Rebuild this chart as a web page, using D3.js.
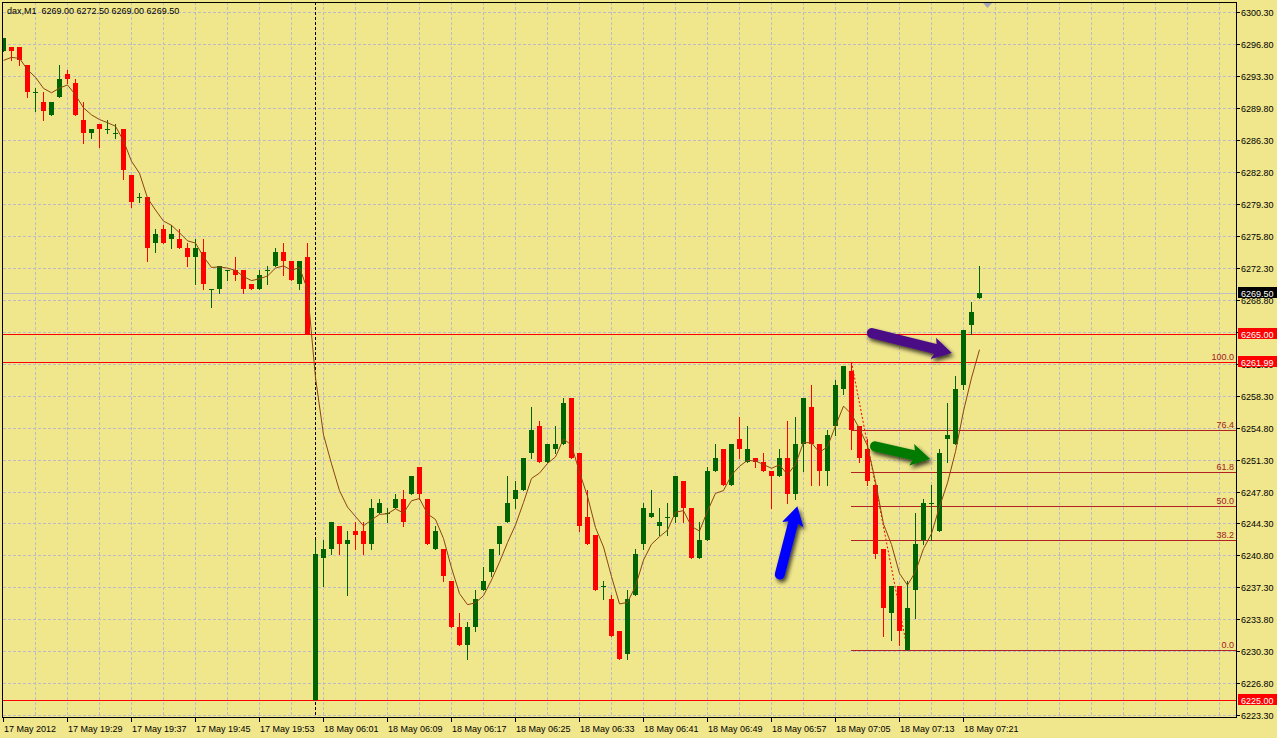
<!DOCTYPE html>
<html><head><meta charset="utf-8">
<script src="https://cdn.jsdelivr.net/npm/d3@7"></script>
<style>html,body{margin:0;padding:0;background:#F0E68C;overflow:hidden}svg{display:block}</style>
</head><body><svg id="c" width="1277" height="738"></svg>
<script>
// ---------- data ----------
const symbolLabel = "dax,M1";
const lastOHLC = ["6269.00", "6272.50", "6269.00", "6269.50"];

const opens = [6296.0,6296.5,6296.5,6294.5,6291.5,6290.5,6289.0,6291.0,6293.5,6292.5,
6288.5,6287.0,6288.0,6287.5,6287.0,6287.5,6282.5,6280.0,6280.0,6275.0,
6276.5,6275.5,6275.5,6274.5,6273.5,6274.0,6270.0,6270.0,6272.0,6272.0,
6272.0,6270.5,6270.0,6272.0,6272.5,6274.0,6273.0,6270.5,6273.5,6225.0,
6240.5,6241.5,6244.0,6242.0,6243.5,6243.5,6242.0,6245.5,6245.5,6246.0,
6247.0,6247.5,6250.5,6247.0,6241.5,6241.5,6238.0,6233.0,6231.0,6233.0,
6237.0,6239.0,6242.0,6244.5,6247.0,6248.0,6252.0,6255.0,6251.0,6252.5,
6253.0,6258.0,6252.0,6245.0,6243.0,6237.5,6236.0,6232.5,6230.0,6236.5,
6242.0,6245.0,6244.0,6245.0,6245.0,6249.0,6246.0,6240.5,6242.5,6250.0,
6252.5,6248.5,6253.5,6251.0,6251.5,6251.0,6250.0,6249.5,6251.5,6247.5,
6253.0,6257.0,6253.0,6250.0,6255.0,6259.0,6261.0,6255.0,6252.5,6248.5,
6241.5,6234.5,6237.5,6230.5,6237.0,6242.5,6246.5,6243.5,6253.5,6253.0,
6259.5,6266.0,6269.0];
const highs = [6297.5,6296.5,6296.5,6294.5,6292.0,6291.5,6290.5,6294.5,6294.0,6293.0,
6290.5,6287.5,6288.0,6288.5,6288.0,6287.5,6282.5,6280.5,6280.0,6276.5,
6277.0,6277.0,6276.5,6275.0,6275.5,6275.5,6270.0,6272.5,6272.0,6273.5,
6272.0,6270.5,6272.0,6272.5,6274.5,6275.0,6273.0,6273.0,6275.0,6242.5,
6242.5,6244.5,6244.0,6243.5,6244.5,6244.5,6247.0,6247.0,6246.0,6247.5,
6248.0,6249.5,6250.5,6247.0,6244.0,6241.5,6238.0,6234.5,6233.5,6237.0,
6239.5,6241.5,6244.0,6249.5,6249.0,6251.5,6257.0,6255.5,6253.0,6255.0,
6258.0,6258.0,6252.0,6248.0,6243.0,6238.0,6236.5,6232.5,6237.0,6241.5,
6246.5,6248.0,6246.0,6246.5,6249.5,6249.0,6246.0,6244.5,6250.5,6253.0,
6252.5,6253.0,6256.0,6255.0,6251.5,6252.0,6250.0,6252.5,6255.5,6256.0,
6258.0,6259.5,6253.0,6254.5,6260.0,6261.5,6261.99,6255.0,6253.5,6248.5,
6241.5,6237.5,6237.5,6238.0,6245.5,6247.0,6248.5,6252.5,6257.5,6260.5,
6265.5,6268.5,6272.5];
const lows = [6296.0,6295.0,6294.5,6291.0,6289.5,6288.5,6289.0,6291.0,6292.5,6289.0,
6286.0,6286.5,6285.5,6287.0,6286.5,6282.0,6279.0,6279.5,6273.0,6274.0,
6275.0,6274.5,6274.5,6272.5,6270.5,6270.0,6268.0,6269.5,6271.0,6271.0,
6269.5,6270.0,6270.0,6270.5,6272.5,6271.5,6271.0,6270.0,6265.0,6225.0,
6237.5,6241.0,6241.0,6236.5,6241.5,6241.0,6241.5,6245.5,6244.5,6246.0,
6244.0,6247.5,6247.0,6242.0,6241.5,6238.0,6233.0,6231.0,6229.5,6232.5,
6237.0,6238.5,6241.0,6244.5,6246.0,6248.0,6251.5,6251.0,6251.0,6252.0,
6253.0,6251.5,6243.5,6242.0,6237.0,6236.0,6232.0,6229.5,6229.5,6236.5,
6241.5,6245.0,6243.0,6243.0,6244.5,6244.5,6240.5,6240.5,6242.5,6250.0,
6248.5,6248.5,6251.5,6251.0,6250.5,6250.0,6246.0,6249.5,6246.5,6247.0,
6250.0,6248.5,6248.5,6248.5,6254.0,6258.5,6252.5,6251.0,6248.5,6240.5,
6232.0,6231.5,6231.0,6230.4,6234.0,6242.0,6242.5,6243.5,6251.0,6253.0,
6259.0,6265.0,6269.0];
const closes = [6297.5,6296.0,6295.0,6291.5,6291.5,6289.5,6290.5,6293.0,6293.0,6289.0,
6287.0,6287.5,6287.5,6287.5,6287.0,6283.0,6279.5,6280.0,6274.5,6276.0,
6275.0,6276.0,6274.5,6273.5,6274.5,6270.5,6270.0,6272.5,6272.0,6271.5,
6270.0,6270.0,6271.5,6272.0,6274.0,6273.0,6271.0,6273.0,6265.0,6241.0,
6241.5,6244.5,6242.0,6242.5,6243.0,6242.0,6246.0,6246.5,6245.5,6247.0,
6244.5,6249.5,6247.5,6242.0,6243.5,6238.5,6233.0,6231.0,6233.0,6236.0,
6238.0,6241.5,6244.0,6246.5,6248.0,6251.5,6254.5,6251.0,6253.0,6253.0,
6257.5,6251.5,6244.0,6242.0,6237.0,6237.5,6232.0,6229.5,6236.0,6241.0,
6246.0,6245.5,6244.5,6245.0,6249.5,6246.0,6240.5,6242.5,6250.0,6251.5,
6248.5,6253.0,6252.5,6252.5,6251.0,6250.0,6249.5,6251.5,6247.5,6253.0,
6258.0,6253.0,6250.0,6254.0,6259.5,6261.5,6254.5,6251.5,6249.0,6241.0,
6235.0,6237.5,6232.5,6235.0,6242.0,6246.5,6246.5,6252.0,6254.0,6259.0,
6265.5,6267.5,6269.5];

const xTickLabels = ["17 May 2012","17 May 19:29","17 May 19:37","17 May 19:45","17 May 19:53",
"18 May 06:01","18 May 06:09","18 May 06:17","18 May 06:25","18 May 06:33","18 May 06:41",
"18 May 06:49","18 May 06:57","18 May 07:05","18 May 07:13","18 May 07:21"];
const xTickBars = [0,8,16,24,32,40,48,56,64,72,80,88,96,104,112,120];

const yTickValues = [6300.3,6296.8,6293.3,6289.8,6286.3,6282.8,6279.3,6275.8,6272.3,6268.8,
6265.3,6261.8,6258.3,6254.8,6251.3,6247.8,6244.3,6240.8,6237.3,6233.8,6230.3,6226.8,6223.3];

const levelLines = [6265.00, 6261.99, 6225.00];
const bidPrice = 6269.50;

const fibLevels = [100.0, 76.4, 61.8, 50.0, 38.2, 0.0];
const fibHigh = 6261.99, fibLow = 6230.40;
const fibStartBar = 106, fibEndBar = 113;

const emaPeriod = 5;
const emaSeed = 6295.0;      // MA value read at first visible bar
const separatorBar = 39;     // first bar of 18 May

const arrowNotes = [
  {color: "#4B0A86", from: [108.6, 6265.15], to: [118.6, 6262.97]},
  {color: "#007A00", from: [109.0, 6252.75], to: [115.9, 6251.37]},
  {color: "#0000FF", from: [97.1, 6238.72], to: [99.3, 6246.19]}
];

// ---------- layout ----------
const W = 1277, H = 738;
const L = 3, R = 1236, T = 2, B = 717;
const FONT = "'Liberation Sans', Arial, sans-serif";
const FS = 9;

const svg = d3.select("#c");
const x = d3.scaleLinear().domain([0, 154]).range([3, 3 + 8 * 154]);
const y = d3.scaleLinear().domain([6223.3, 6300.3]).range([715.3, 12]);

svg.append("rect").attr("width", W).attr("height", H).attr("fill", "#F0E68C");

const defs = svg.append("defs");
defs.append("clipPath").attr("id", "plot").append("rect")
  .attr("x", L).attr("y", T + 1).attr("width", R - L).attr("height", B - T - 1);
const f = defs.append("filter").attr("id", "sh").attr("x", "-50%").attr("y", "-50%").attr("width", "200%").attr("height", "200%");
f.append("feDropShadow").attr("dx", 2).attr("dy", 3).attr("stdDeviation", 2.2)
  .attr("flood-color", "#000").attr("flood-opacity", 0.75);

const plot = svg.append("g").attr("clip-path", "url(#plot)");
const gridColor = "#BCBCC8";

// grid
plot.append("g").selectAll("line").data(yTickValues).join("line")
  .attr("x1", L).attr("x2", R)
  .attr("y1", d => Math.round(y(d)) + 0.5).attr("y2", d => Math.round(y(d)) + 0.5)
  .attr("stroke", gridColor).attr("stroke-dasharray", "3,2");
plot.append("g").selectAll("line").data(d3.range(4, 155, 4)).join("line")
  .attr("x1", d => x(d) + 0.5).attr("x2", d => x(d) + 0.5)
  .attr("y1", T).attr("y2", B)
  .attr("stroke", gridColor).attr("stroke-dasharray", "3,2");

// bid line
plot.append("line").attr("x1", L).attr("x2", R)
  .attr("y1", Math.round(y(bidPrice)) + 0.5).attr("y2", Math.round(y(bidPrice)) + 0.5)
  .attr("stroke", "#C0C0C0");

// period separator
plot.append("line").attr("x1", x(separatorBar) + 0.5).attr("x2", x(separatorBar) + 0.5)
  .attr("y1", T).attr("y2", B).attr("stroke", "#000").attr("stroke-dasharray", "3,2");

// fibonacci
const fibVal = p => fibLow + (fibHigh - fibLow) * p / 100;
const fibG = plot.append("g");
fibG.selectAll("line").data(fibLevels).join("line")
  .attr("x1", x(fibStartBar)).attr("x2", R)
  .attr("y1", d => Math.round(y(fibVal(d))) + 0.5).attr("y2", d => Math.round(y(fibVal(d))) + 0.5)
  .attr("stroke", "#B22222");
fibG.append("line")
  .attr("x1", x(fibStartBar) + 0.5).attr("y1", y(fibHigh))
  .attr("x2", x(fibEndBar) + 0.5).attr("y2", y(fibLow))
  .attr("stroke", "#FF0000").attr("stroke-dasharray", "2,2");

// level lines
plot.append("g").selectAll("line").data(levelLines).join("line")
  .attr("x1", L).attr("x2", R)
  .attr("y1", d => Math.round(y(d)) + 0.5).attr("y2", d => Math.round(y(d)) + 0.5)
  .attr("stroke", "#FF0000");

// candles
const bars = closes.map((c, i) => ({i, o: opens[i], h: highs[i], l: lows[i], c}));
const up = d => d.c >= d.o;
const cg = plot.append("g");
cg.selectAll("rect.w").data(bars).join("rect").attr("class", "w")
  .attr("x", d => x(d.i)).attr("width", 1)
  .attr("y", d => Math.round(y(d.h)))
  .attr("height", d => Math.max(1, Math.round(y(d.l)) - Math.round(y(d.h)) + 1))
  .attr("fill", d => up(d) ? "#006400" : "#FF0000");
cg.selectAll("rect.b").data(bars).join("rect").attr("class", "b")
  .attr("x", d => x(d.i) - 2).attr("width", 5)
  .attr("y", d => Math.round(y(Math.max(d.o, d.c))))
  .attr("height", d => Math.max(1, Math.round(y(Math.min(d.o, d.c))) - Math.round(y(Math.max(d.o, d.c)))))
  .attr("fill", d => up(d) ? "#006400" : "#FF0000");

// EMA of closes
const ema = [];
closes.forEach((c, i) => { ema.push(i === 0 ? emaSeed : ema[i - 1] + (c - ema[i - 1]) * 2 / (emaPeriod + 1)); });
plot.append("path").datum(ema)
  .attr("d", d3.line().x((d, i) => x(i) + 0.5).y(d => y(d)))
  .attr("fill", "none").attr("stroke", "#8B4513").attr("stroke-width", 1);

// fib labels
fibG.selectAll("text").data(fibLevels).join("text")
  .attr("x", R - 2).attr("y", d => Math.round(y(fibVal(d))) - 2)
  .attr("text-anchor", "end").attr("font-family", FONT).attr("font-size", FS)
  .attr("fill", "#A0201E").text(d => d3.format(".1f")(d));

// arrows
const ag = svg.append("g");
arrowNotes.forEach(a => {
  const p0 = [x(a.from[0]), y(a.from[1])], p1 = [x(a.to[0]), y(a.to[1])];
  const dx = p1[0] - p0[0], dy = p1[1] - p0[1], len = Math.hypot(dx, dy);
  const u = [dx / len, dy / len], n = [-u[1], u[0]];
  const hl = 19, hw = 11;
  const base = [p1[0] - u[0] * hl, p1[1] - u[1] * hl];
  const g = ag.append("g").attr("filter", "url(#sh)");
  g.append("line").attr("x1", p0[0]).attr("y1", p0[1])
    .attr("x2", base[0] + u[0] * 3).attr("y2", base[1] + u[1] * 3)
    .attr("stroke", a.color).attr("stroke-width", 10).attr("stroke-linecap", "round");
  g.append("path").attr("d", "M" + [base[0] + n[0] * hw, base[1] + n[1] * hw] +
    "L" + p1 + "L" + [base[0] - n[0] * hw, base[1] - n[1] * hw] +
    "L" + [base[0] + u[0] * 4, base[1] + u[1] * 4] + "Z").attr("fill", a.color);
});

// frame
svg.append("rect").attr("x", L - 0.5).attr("y", T + 0.5).attr("width", R - L + 1).attr("height", B - T)
  .attr("fill", "none").attr("stroke", "#000");

// chart shift marker
svg.append("path").attr("d", "M983,3L992,3L987.5,8Z").attr("fill", "#A8A8B8");

// right axis
const ya = svg.append("g");
ya.selectAll("line").data(yTickValues).join("line")
  .attr("x1", R + 1).attr("x2", R + 4)
  .attr("y1", d => Math.round(y(d)) + 0.5).attr("y2", d => Math.round(y(d)) + 0.5)
  .attr("stroke", "#000");
ya.selectAll("text").data(yTickValues).join("text")
  .attr("x", R + 5).attr("y", d => Math.round(y(d)) + 3.5)
  .attr("font-family", FONT).attr("font-size", FS).attr("fill", "#000")
  .text(d => d3.format(".2f")(d));

function priceTag(v, bg) {
  const yy = Math.round(y(v));
  svg.append("rect").attr("x", R + 2).attr("y", yy - 6).attr("width", W - R - 2).attr("height", 11).attr("fill", bg);
  svg.append("text").attr("x", R + 5).attr("y", yy + 3.5)
    .attr("font-family", FONT).attr("font-size", FS).attr("fill", "#fff").text(d3.format(".2f")(v));
}
priceTag(bidPrice, "#000");
levelLines.forEach(v => priceTag(v, "#FF0000"));

// bottom axis
const xa = svg.append("g");
xa.selectAll("line").data(xTickBars).join("line")
  .attr("x1", d => x(d) + 0.5).attr("x2", d => x(d) + 0.5)
  .attr("y1", B).attr("y2", B + 5).attr("stroke", "#000");
xa.selectAll("text").data(xTickBars).join("text")
  .attr("x", d => x(d) + 1).attr("y", B + 15)
  .attr("font-family", FONT).attr("font-size", FS).attr("fill", "#000")
  .text((d, i) => xTickLabels[i]);

// header
svg.append("text").attr("x", 7).attr("y", 14).attr("xml:space", "preserve")
  .style("white-space", "pre")
  .attr("font-family", FONT).attr("font-size", FS).attr("fill", "#000")
  .text(symbolLabel + "  " + lastOHLC.join(" "));
</script></body></html>
